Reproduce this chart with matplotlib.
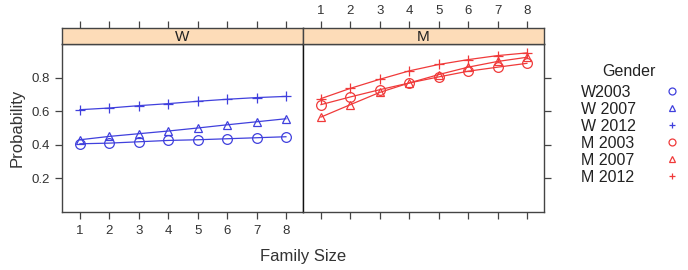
import matplotlib.pyplot as plt
from matplotlib.lines import Line2D

plt.rcParams['font.family'] = ['Liberation Sans', 'DejaVu Sans']

# --- dados ---
family_size = [1, 2, 3, 4, 5, 6, 7, 8]
panels = ["W", "M"]
legend_labels = ["W2003", "W 2007", "W 2012", "M 2003", "M 2007", "M 2012"]

w_2003 = [0.406, 0.410, 0.418, 0.426, 0.430, 0.436, 0.442, 0.448]
w_2007 = [0.430, 0.450, 0.466, 0.482, 0.500, 0.519, 0.537, 0.555]
w_2012 = [0.609, 0.619, 0.633, 0.645, 0.659, 0.671, 0.681, 0.688]

m_2003 = [0.639, 0.685, 0.728, 0.768, 0.804, 0.838, 0.862, 0.885]
m_2007 = [0.565, 0.639, 0.712, 0.768, 0.818, 0.862, 0.896, 0.921]
m_2012 = [0.675, 0.736, 0.790, 0.840, 0.878, 0.907, 0.931, 0.947]

series = {"W": [w_2003, w_2007, w_2012], "M": [m_2003, m_2007, m_2012]}
colors = {"W": "#4040dd", "M": "#f03a3a"}
markers = ["o", "^", "+"]
msizes = [7, 6, 7]

fig = plt.figure(figsize=(6.88, 2.70), dpi=100)
edge = "#444444"
txt = "#333333"

panel_w = 241 / 688
lefts = [62 / 688, 303 / 688]
bottom, height = 58 / 270, 168 / 270
xlim = (0.39, 8.58)

for i, p in enumerate(panels):
    ax = fig.add_axes([lefts[i], bottom, panel_w, height])
    for vals, mk, ms in zip(series[p], markers, msizes):
        ax.plot(family_size, vals, color=colors[p], lw=0.9, marker=mk, ms=ms,
                mfc="none", mec=colors[p], mew=0.9)
    ax.set_xlim(*xlim)
    ax.set_ylim(0, 1.0)
    ax.set_xticks(family_size)
    ax.set_yticks([0.2, 0.4, 0.6, 0.8])
    for s in ax.spines.values():
        s.set_color(edge)
        s.set_linewidth(1.0)
    ax.tick_params(direction="out", length=5, color=edge, labelsize=9.5,
                   labelcolor=txt, width=0.9, pad=4)
    ax.tick_params(axis="x", top=False, labeltop=False, bottom=True,
                   labelbottom=(i == 0))
    if i == 0:
        ax.tick_params(axis="y", left=True, labelleft=True, right=False)
        ax.set_ylabel("Probability", fontsize=12, color=txt, labelpad=5)
    else:
        ax.tick_params(axis="y", left=False, labelleft=False, right=True, labelright=False)
        ax.spines["left"].set_color("#111111")

    # faixa (strip) com os ticks de cima
    sax = fig.add_axes([lefts[i], (270 - 44) / 270, panel_w, 16 / 270])
    sax.set_facecolor("#fddcb8")
    sax.set_xlim(*xlim)
    sax.set_xticks(family_size)
    sax.set_yticks([])
    sax.tick_params(axis="x", top=True, bottom=False, labelbottom=False,
                    labeltop=(i == 1), direction="out", length=5, color=edge,
                    labelsize=9.5, labelcolor=txt, width=0.9, pad=3)
    for s in sax.spines.values():
        s.set_color(edge)
        s.set_linewidth(1.0)
    sax.text(0.5, 0.45, p, ha="center", va="center", fontsize=11, color="#222222",
             transform=sax.transAxes)

fig.text(303 / 688, 14 / 270, "Family Size", ha="center", va="center",
         fontsize=12, color=txt)

# legenda: textos alinhados à esquerda, símbolos numa coluna à direita
fig.text(629 / 688, 1 - 71 / 270, "Gender", ha="center", va="center",
         fontsize=11.5, color="#222222")
blank = [Line2D([], [], ls="none") for _ in legend_labels]
leg1 = fig.legend(blank, legend_labels, loc="upper left",
                  bbox_to_anchor=(581 / 688, 1 - 85 / 270), frameon=False,
                  fontsize=11.5, labelspacing=0.12, handlelength=0,
                  handletextpad=0, borderpad=0, borderaxespad=0)
for t in leg1.get_texts():
    t.set_color("#222222")

handles = []
for p in panels:
    for mk in markers:
        handles.append(Line2D([], [], ls="none", marker=mk, ms=5, mfc="none",
                              mec=colors[p], mew=0.9))
leg2 = fig.legend(handles, [" "] * len(handles), loc="upper left",
                  bbox_to_anchor=(664 / 688, 1 - 85 / 270), frameon=False,
                  fontsize=11.5, labelspacing=0.12, handlelength=1.0,
                  handletextpad=0, borderpad=0, borderaxespad=0)

fig.savefig("out.png", dpi=100)
